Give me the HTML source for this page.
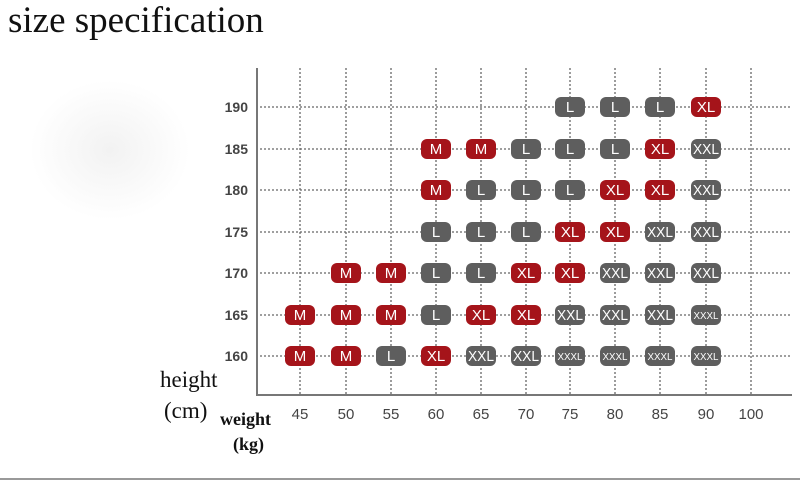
<!DOCTYPE html>
<html><head><meta charset="utf-8"><style>
html,body{margin:0;padding:0;background:#fff;width:800px;height:482px;overflow:hidden}
svg{display:block}
.r use{fill:#a5141a}.g use{fill:#5e5e5e}
.b text{fill:#fff;font-family:"Liberation Sans",sans-serif;font-size:15px;text-anchor:middle}
.t{font-family:"Liberation Sans",sans-serif;font-size:14px;fill:#444;font-weight:bold}
.x{font-family:"Liberation Sans",sans-serif;font-size:15px;fill:#444}
</style></head><body>
<svg width="800" height="482" viewBox="0 0 800 482" xmlns="http://www.w3.org/2000/svg">
<defs>
<rect id="R" x="-15" y="-10" width="30" height="20" rx="6"/>
<radialGradient id="bg"><stop offset="0" stop-color="#f2f2f2"/><stop offset="1" stop-color="#fff"/></radialGradient>
</defs>
<text x="8" y="32" font-family="Liberation Serif,serif" font-size="37" fill="#111">size specification</text>
<ellipse cx="110" cy="150" rx="80" ry="70" fill="url(#bg)"/>
<g stroke="#666" stroke-width="1.3" stroke-dasharray="2,2">
<line x1="256" y1="107" x2="792" y2="107"/><line x1="256" y1="149" x2="792" y2="149"/>
<line x1="256" y1="190" x2="792" y2="190"/><line x1="256" y1="232" x2="792" y2="232"/>
<line x1="256" y1="273" x2="792" y2="273"/><line x1="256" y1="315" x2="792" y2="315"/>
<line x1="256" y1="356" x2="792" y2="356"/>
<line x1="300" y1="68" x2="300" y2="395"/><line x1="346" y1="68" x2="346" y2="395"/>
<line x1="391" y1="68" x2="391" y2="395"/><line x1="436" y1="68" x2="436" y2="395"/>
<line x1="481" y1="68" x2="481" y2="395"/><line x1="526" y1="68" x2="526" y2="395"/>
<line x1="570" y1="68" x2="570" y2="395"/><line x1="615" y1="68" x2="615" y2="395"/>
<line x1="660" y1="68" x2="660" y2="395"/><line x1="706" y1="68" x2="706" y2="395"/>
<line x1="751" y1="68" x2="751" y2="395"/>
</g>
<line x1="257" y1="68" x2="257" y2="396" stroke="#777" stroke-width="2"/>
<line x1="256" y1="395" x2="792" y2="395" stroke="#777" stroke-width="2"/>
<line x1="0" y1="479" x2="800" y2="479" stroke="#999" stroke-width="2"/>
<g class="t" text-anchor="end">
<text x="248" y="112">190</text><text x="248" y="154">185</text><text x="248" y="195">180</text>
<text x="248" y="237">175</text><text x="248" y="278">170</text><text x="248" y="320">165</text>
<text x="248" y="361">160</text></g>
<g class="x" text-anchor="middle">
<text x="300" y="419">45</text><text x="346" y="419">50</text><text x="391" y="419">55</text>
<text x="436" y="419">60</text><text x="481" y="419">65</text><text x="526" y="419">70</text>
<text x="570" y="419">75</text><text x="615" y="419">80</text><text x="660" y="419">85</text>
<text x="706" y="419">90</text><text x="751" y="419">100</text></g>
<g font-family="Liberation Serif,serif" fill="#111">
<text x="160" y="387" font-size="23">height</text>
<text x="164" y="418" font-size="23">(cm)</text>
<text x="220" y="425" font-size="18" font-weight="bold">weight</text>
<text x="233" y="450" font-size="18" font-weight="bold">(kg)</text>
</g>
<!-- 190 -->
<g class="b g" transform="translate(570,107)"><use href="#R"/><text y="5">L</text></g>
<g class="b g" transform="translate(615,107)"><use href="#R"/><text y="5">L</text></g>
<g class="b g" transform="translate(660,107)"><use href="#R"/><text y="5">L</text></g>
<g class="b r" transform="translate(706,107)"><use href="#R"/><text y="5">XL</text></g>
<!-- 185 -->
<g class="b r" transform="translate(436,149)"><use href="#R"/><text y="5">M</text></g>
<g class="b r" transform="translate(481,149)"><use href="#R"/><text y="5">M</text></g>
<g class="b g" transform="translate(526,149)"><use href="#R"/><text y="5">L</text></g>
<g class="b g" transform="translate(570,149)"><use href="#R"/><text y="5">L</text></g>
<g class="b g" transform="translate(615,149)"><use href="#R"/><text y="5">L</text></g>
<g class="b r" transform="translate(660,149)"><use href="#R"/><text y="5">XL</text></g>
<g class="b g" transform="translate(706,149)"><use href="#R"/><text y="5" textLength="26" lengthAdjust="spacingAndGlyphs">XXL</text></g>
<!-- 180 -->
<g class="b r" transform="translate(436,190)"><use href="#R"/><text y="5">M</text></g>
<g class="b g" transform="translate(481,190)"><use href="#R"/><text y="5">L</text></g>
<g class="b g" transform="translate(526,190)"><use href="#R"/><text y="5">L</text></g>
<g class="b g" transform="translate(570,190)"><use href="#R"/><text y="5">L</text></g>
<g class="b r" transform="translate(615,190)"><use href="#R"/><text y="5">XL</text></g>
<g class="b r" transform="translate(660,190)"><use href="#R"/><text y="5">XL</text></g>
<g class="b g" transform="translate(706,190)"><use href="#R"/><text y="5" textLength="26" lengthAdjust="spacingAndGlyphs">XXL</text></g>
<!-- 175 -->
<g class="b g" transform="translate(436,232)"><use href="#R"/><text y="5">L</text></g>
<g class="b g" transform="translate(481,232)"><use href="#R"/><text y="5">L</text></g>
<g class="b g" transform="translate(526,232)"><use href="#R"/><text y="5">L</text></g>
<g class="b r" transform="translate(570,232)"><use href="#R"/><text y="5">XL</text></g>
<g class="b r" transform="translate(615,232)"><use href="#R"/><text y="5">XL</text></g>
<g class="b g" transform="translate(660,232)"><use href="#R"/><text y="5" textLength="26" lengthAdjust="spacingAndGlyphs">XXL</text></g>
<g class="b g" transform="translate(706,232)"><use href="#R"/><text y="5" textLength="26" lengthAdjust="spacingAndGlyphs">XXL</text></g>
<!-- 170 -->
<g class="b r" transform="translate(346,273)"><use href="#R"/><text y="5">M</text></g>
<g class="b r" transform="translate(391,273)"><use href="#R"/><text y="5">M</text></g>
<g class="b g" transform="translate(436,273)"><use href="#R"/><text y="5">L</text></g>
<g class="b g" transform="translate(481,273)"><use href="#R"/><text y="5">L</text></g>
<g class="b r" transform="translate(526,273)"><use href="#R"/><text y="5">XL</text></g>
<g class="b r" transform="translate(570,273)"><use href="#R"/><text y="5">XL</text></g>
<g class="b g" transform="translate(615,273)"><use href="#R"/><text y="5" textLength="26" lengthAdjust="spacingAndGlyphs">XXL</text></g>
<g class="b g" transform="translate(660,273)"><use href="#R"/><text y="5" textLength="26" lengthAdjust="spacingAndGlyphs">XXL</text></g>
<g class="b g" transform="translate(706,273)"><use href="#R"/><text y="5" textLength="26" lengthAdjust="spacingAndGlyphs">XXL</text></g>
<!-- 165 -->
<g class="b r" transform="translate(300,315)"><use href="#R"/><text y="5">M</text></g>
<g class="b r" transform="translate(346,315)"><use href="#R"/><text y="5">M</text></g>
<g class="b r" transform="translate(391,315)"><use href="#R"/><text y="5">M</text></g>
<g class="b g" transform="translate(436,315)"><use href="#R"/><text y="5">L</text></g>
<g class="b r" transform="translate(481,315)"><use href="#R"/><text y="5">XL</text></g>
<g class="b r" transform="translate(526,315)"><use href="#R"/><text y="5">XL</text></g>
<g class="b g" transform="translate(570,315)"><use href="#R"/><text y="5" textLength="26" lengthAdjust="spacingAndGlyphs">XXL</text></g>
<g class="b g" transform="translate(615,315)"><use href="#R"/><text y="5" textLength="26" lengthAdjust="spacingAndGlyphs">XXL</text></g>
<g class="b g" transform="translate(660,315)"><use href="#R"/><text y="5" textLength="26" lengthAdjust="spacingAndGlyphs">XXL</text></g>
<g class="b g" transform="translate(706,315)"><use href="#R"/><text y="4" style="font-size:10px" textLength="25" lengthAdjust="spacingAndGlyphs">XXXL</text></g>
<!-- 160 -->
<g class="b r" transform="translate(300,356)"><use href="#R"/><text y="5">M</text></g>
<g class="b r" transform="translate(346,356)"><use href="#R"/><text y="5">M</text></g>
<g class="b g" transform="translate(391,356)"><use href="#R"/><text y="5">L</text></g>
<g class="b r" transform="translate(436,356)"><use href="#R"/><text y="5">XL</text></g>
<g class="b g" transform="translate(481,356)"><use href="#R"/><text y="5" textLength="26" lengthAdjust="spacingAndGlyphs">XXL</text></g>
<g class="b g" transform="translate(526,356)"><use href="#R"/><text y="5" textLength="26" lengthAdjust="spacingAndGlyphs">XXL</text></g>
<g class="b g" transform="translate(570,356)"><use href="#R"/><text y="4" style="font-size:10px" textLength="25" lengthAdjust="spacingAndGlyphs">XXXL</text></g>
<g class="b g" transform="translate(615,356)"><use href="#R"/><text y="4" style="font-size:10px" textLength="25" lengthAdjust="spacingAndGlyphs">XXXL</text></g>
<g class="b g" transform="translate(660,356)"><use href="#R"/><text y="4" style="font-size:10px" textLength="25" lengthAdjust="spacingAndGlyphs">XXXL</text></g>
<g class="b g" transform="translate(706,356)"><use href="#R"/><text y="4" style="font-size:10px" textLength="25" lengthAdjust="spacingAndGlyphs">XXXL</text></g>
</svg>
</body></html>
